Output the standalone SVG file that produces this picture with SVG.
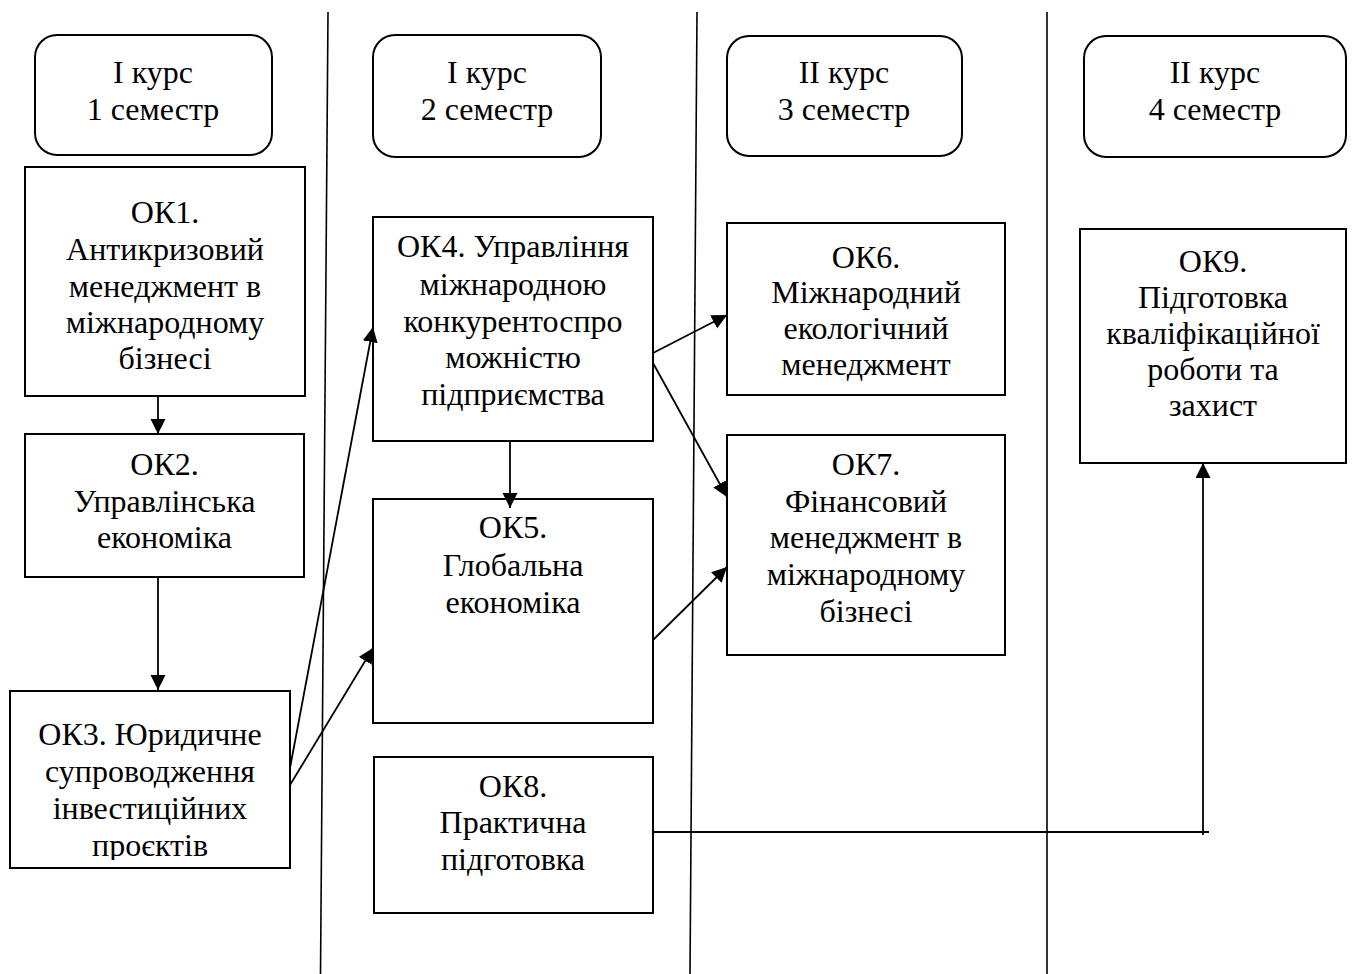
<svg xmlns="http://www.w3.org/2000/svg" width="1354" height="974" viewBox="0 0 1354 974">
  <style>
    .box { fill: #fff; stroke: #000; stroke-width: 2; }
    .hdr { fill: #fff; stroke: #000; stroke-width: 2; }
    .t { font-family: "Liberation Serif", "Times New Roman", serif; font-size: 32px; fill: #000; text-anchor: middle; }
    .div { stroke: #000; stroke-width: 1.6; fill: none; }
    .con { stroke: #000; stroke-width: 1.8; fill: none; }
    .arr { marker-end: url(#ah); }
  </style>
  <defs>
    <marker id="ah" markerUnits="userSpaceOnUse" markerWidth="16" markerHeight="16" refX="15" refY="7.5" orient="auto">
      <path d="M0,0 L15,7.5 L0,15 z" fill="#000"/>
    </marker>
    <clipPath id="clip3">
      <rect x="10" y="691" width="280" height="169"/>
    </clipPath>
  </defs>
  <rect width="1354" height="974" fill="#fff"/>

  <g id="dividers">
    <line class="div" x1="328" y1="12" x2="320.5" y2="974"/>
    <line class="div" x1="697" y1="12" x2="690" y2="974"/>
    <line class="div" x1="1047" y1="12" x2="1047" y2="974"/>
  </g>

  <g id="hdr1">
    <rect class="hdr" x="35" y="35" width="237" height="120" rx="22" ry="22"/>
    <text class="t" x="153" y="83">I курс</text>
    <text class="t" x="153" y="120">1 семестр</text>
  </g>
  <g id="hdr2">
    <rect class="hdr" x="373" y="35" width="228" height="122" rx="22" ry="22"/>
    <text class="t" x="487" y="83">I курс</text>
    <text class="t" x="487" y="120">2 семестр</text>
  </g>
  <g id="hdr3">
    <rect class="hdr" x="727" y="36" width="235" height="120" rx="22" ry="22"/>
    <text class="t" x="844" y="83">II курс</text>
    <text class="t" x="844" y="120">3 семестр</text>
  </g>
  <g id="hdr4">
    <rect class="hdr" x="1084" y="36" width="262" height="121" rx="22" ry="22"/>
    <text class="t" x="1215" y="83">II курс</text>
    <text class="t" x="1215" y="120">4 семестр</text>
  </g>

  <g id="ok1">
    <rect class="box" x="25" y="167" width="280" height="229"/>
    <text class="t" x="165" y="223">ОК1.</text>
    <text class="t" x="165" y="260">Антикризовий</text>
    <text class="t" x="165" y="297">менеджмент в</text>
    <text class="t" x="165" y="333">міжнародному</text>
    <text class="t" x="165" y="369">бізнесі</text>
  </g>
  <g id="ok2">
    <rect class="box" x="25" y="434" width="279" height="143"/>
    <text class="t" x="164.5" y="475">ОК2.</text>
    <text class="t" x="164.5" y="512">Управлінська</text>
    <text class="t" x="164.5" y="548">економіка</text>
  </g>
  <g id="ok3">
    <rect class="box" x="10" y="691" width="280" height="177"/>
    <g clip-path="url(#clip3)">
      <text class="t" x="150" y="745">ОК3. Юридичне</text>
      <text class="t" x="150" y="782">супроводження</text>
      <text class="t" x="150" y="819">інвестиційних</text>
      <text class="t" x="150" y="856">проєктів</text>
    </g>
  </g>
  <g id="ok4">
    <rect class="box" x="373" y="217" width="280" height="224"/>
    <text class="t" x="513" y="257">ОК4. Управління</text>
    <text class="t" x="513" y="295">міжнародною</text>
    <text class="t" x="513" y="332">конкурентоспро</text>
    <text class="t" x="513" y="368">можністю</text>
    <text class="t" x="513" y="405">підприємства</text>
  </g>
  <g id="ok5">
    <rect class="box" x="373" y="499" width="280" height="224"/>
    <text class="t" x="513" y="538">ОК5.</text>
    <text class="t" x="513" y="576">Глобальна</text>
    <text class="t" x="513" y="613">економіка</text>
  </g>
  <g id="ok8">
    <rect class="box" x="374" y="757" width="279" height="156"/>
    <text class="t" x="513" y="797">ОК8.</text>
    <text class="t" x="513" y="833">Практична</text>
    <text class="t" x="513" y="870">підготовка</text>
  </g>
  <g id="ok6">
    <rect class="box" x="727" y="223" width="278" height="172"/>
    <text class="t" x="866" y="268">ОК6.</text>
    <text class="t" x="866" y="303">Міжнародний</text>
    <text class="t" x="866" y="339">екологічний</text>
    <text class="t" x="866" y="375">менеджмент</text>
  </g>
  <g id="ok7">
    <rect class="box" x="727" y="435" width="278" height="220"/>
    <text class="t" x="866" y="475">ОК7.</text>
    <text class="t" x="866" y="512">Фінансовий</text>
    <text class="t" x="866" y="548">менеджмент в</text>
    <text class="t" x="866" y="585">міжнародному</text>
    <text class="t" x="866" y="622">бізнесі</text>
  </g>
  <g id="ok9">
    <rect class="box" x="1080" y="229" width="266" height="234"/>
    <text class="t" x="1213" y="272">ОК9.</text>
    <text class="t" x="1213" y="308">Підготовка</text>
    <text class="t" x="1213" y="344">кваліфікаційної</text>
    <text class="t" x="1213" y="380">роботи та</text>
    <text class="t" x="1213" y="416">захист</text>
  </g>

  <g id="connectors">
    <line class="con arr" x1="158" y1="396" x2="158" y2="434"/>
    <line class="con arr" x1="158" y1="577" x2="158" y2="690"/>
    <line class="con arr" x1="290" y1="768" x2="373" y2="327"/>
    <line class="con arr" x1="290" y1="785" x2="373" y2="648"/>
    <line class="con arr" x1="510" y1="441" x2="510" y2="508"/>
    <line class="con arr" x1="653" y1="353" x2="727" y2="315"/>
    <line class="con arr" x1="653" y1="363" x2="727" y2="497"/>
    <line class="con arr" x1="653" y1="640" x2="727" y2="567"/>
    <line class="con" x1="653" y1="832" x2="1209" y2="832"/>
    <line class="con arr" x1="1203" y1="835" x2="1203" y2="463"/>
  </g>
</svg>
